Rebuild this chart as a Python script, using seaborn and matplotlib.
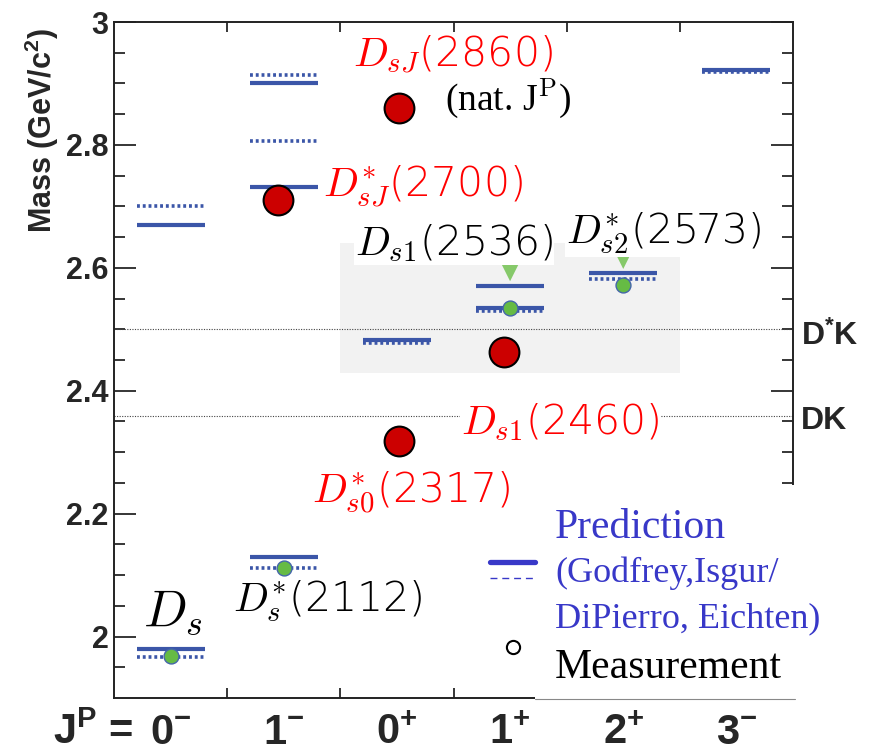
import numpy as np
import pandas as pd
import matplotlib
matplotlib.use('Agg')
import matplotlib.pyplot as plt
import matplotlib.transforms as mtransforms
from matplotlib.patches import Rectangle
from matplotlib.lines import Line2D
import seaborn as sns

# J^P columns
jp_labels = ['0$^{-}$', '1$^{-}$', '0$^{+}$', '1$^{+}$', '2$^{+}$', '3$^{-}$']

# Godfrey-Isgur predictions (solid): column index and mass (GeV/c^2)
gi_col = [0, 0, 1, 1, 1, 2, 3, 3, 4, 5]
gi_mass = [1.980, 2.670, 2.130, 2.732, 2.901, 2.483, 2.535, 2.571, 2.592, 2.922]

# DiPierro-Eichten predictions (dashed)
de_col = [0, 0, 1, 1, 1, 2, 3, 4, 5]
de_mass = [1.966, 2.701, 2.112, 2.807, 2.914, 2.478, 2.530, 2.582, 2.918]

# established states (green)
known_col = [0, 1, 3, 4]
known_mass = [1.968, 2.112, 2.535, 2.572]

# green triangles
tri_col = [3, 4]
tri_mass = [2.592, 2.612]

# newer states (red)
new_col = [1, 2, 2, 3]
new_mass = [2.710, 2.860, 2.318, 2.463]

# thresholds
thr_names = ['D$^{*}$K', 'DK']
thr_mass = [2.501, 2.359]

# state labels
red_labels = [r'$D_{sJ}$(2860)', r'$D^{*}_{sJ}$(2700)', r'$D_{s1}$(2460)', r'$D^{*}_{s0}$(2317)']
black_labels = [r'$D_{s1}$(2536)', r'$D^{*}_{s2}$(2573)', r'$D^{*}_{s}$(2112)']

sns.set_style('ticks')
plt.rcParams['mathtext.fontset'] = 'custom'
plt.rcParams['mathtext.rm'] = 'Liberation Sans:bold'
plt.rcParams['mathtext.it'] = 'Liberation Sans:bold:italic'
plt.rcParams['mathtext.bf'] = 'Liberation Sans:bold'
plt.rcParams['font.family'] = ['Liberation Sans', 'DejaVu Sans']

W, H = 872, 753
fig = plt.figure(figsize=(W / 100, H / 100), dpi=100)
ax = fig.add_axes([114 / W, 55 / H, 679 / W, 676 / H])
ax.set_xlim(-0.5, 5.5)
ax.set_ylim(1.9, 3.0)

blue = '#3b56a8'

# shaded box
ax.add_patch(Rectangle((1.5, 2.429), 3.0, 0.212, fc='#f2f2f2', ec='none', zorder=0.5))

# thresholds
for m in thr_mass:
    ax.axhline(m, color='#444444', lw=0.8, ls=(0, (1, 1.3)), zorder=1)

# predictions
gi = np.array(gi_col)
de = np.array(de_col)
ax.hlines(de_mass, de - 0.30, de + 0.30, colors=blue, lw=2.6,
          linestyles=[(0, (0.8, 0.8))], zorder=2)
ax.hlines(gi_mass, gi - 0.30, gi + 0.30, colors=blue, lw=3.0, zorder=2.5)

# measurements
known_df = pd.DataFrame({'x': known_col, 'mass': known_mass})
tri_df = pd.DataFrame({'x': tri_col, 'mass': tri_mass})
new_df = pd.DataFrame({'x': np.array(new_col) + np.array([-0.05, 0.02, 0.02, -0.05]),
                       'mass': new_mass})
sns.scatterplot(data=tri_df, x='x', y='mass', marker='v', s=150, color='#86c96a',
                edgecolor='none', zorder=3, ax=ax)
sns.scatterplot(data=known_df, x='x', y='mass', s=115, color='#66bb44',
                edgecolor='#4466aa', linewidth=1, zorder=4, ax=ax)
sns.scatterplot(data=new_df, x='x', y='mass', s=460, color='#cc0000',
                edgecolor='black', linewidth=1.5, zorder=4, ax=ax)

# labels
lab = dict(family='DejaVu Sans', fontweight=200, math_fontfamily='cm', fontsize=29.5,
           va='baseline', ha='left', zorder=6)
ax.text(1.612, 2.927, red_labels[0], color='red', **lab)
ax.text(1.347, 2.715, red_labels[1], color='red', **lab)
ax.text(2.566, 2.330, red_labels[2], color='red',
        bbox=dict(fc='white', ec='none', pad=1), **lab)
ax.text(1.250, 2.218, red_labels[3], color='red', **lab)
ax.text(1.630, 2.620, black_labels[0], color='black',
        bbox=dict(fc='white', ec='none', pad=0.5), **lab)
ax.text(3.494, 2.639, black_labels[1], color='black',
        bbox=dict(fc='white', ec='none', pad=0.5), **lab)
ax.text(0.552, 2.041, black_labels[2], color='black', **lab)
ax.text(-0.244, 2.015, r'$D_s$', color='black', family='DejaVu Sans', math_fontfamily='cm',
        fontsize=37, va='baseline', ha='left', zorder=6)
ax.text(2.425, 2.857, r'(nat. J$^{\mathrm{P}}$)', color='black', family='Liberation Serif',
        math_fontfamily='cm', fontsize=27, va='baseline', ha='left', zorder=6)

# axes styling
for s in ax.spines.values():
    s.set_color('#222222')
    s.set_linewidth(1.4)
ax.set_yticks(np.arange(2.0, 3.01, 0.2))
ax.set_yticks(np.arange(1.95, 3.0, 0.05), minor=True)
ax.set_yticklabels(['2', '2.2', '2.4', '2.6', '2.8', '3'], fontsize=22, fontweight='bold')
ax.tick_params(axis='y', which='both', direction='in', left=True, right=True, width=1.3, pad=4)
ax.tick_params(axis='y', which='major', length=16)
ax.tick_params(axis='y', which='minor', length=8)
ax.set_xticks(range(6))
ax.set_xticklabels([])
ax.set_xticks(np.arange(0.5, 5.0, 1.0), minor=True)
ax.tick_params(axis='x', which='major', length=0)
ax.tick_params(axis='x', which='minor', direction='in', top=True, bottom=True, length=7, width=1.3)
ax.set_xlabel('')
ax.set_ylabel('')

xt = mtransforms.blended_transform_factory(ax.transData, ax.transAxes)
for i, t in enumerate(jp_labels):
    ax.text(i, -0.068, t, transform=xt, ha='center', va='baseline', fontsize=30,
            fontweight='bold', clip_on=False)
ax.text(-0.33, -0.068, r'J$^{\mathrm{P}}$ =', transform=xt, ha='right', va='baseline',
        fontsize=30, fontweight='bold', clip_on=False)

yt = mtransforms.blended_transform_factory(ax.transAxes, ax.transData)
ax.text(1.0118, 2.475, thr_names[0], transform=yt, ha='left', va='baseline',
        fontsize=23, fontweight='bold', clip_on=False)
ax.text(1.0118, 2.337, thr_names[1], transform=yt, ha='left', va='baseline',
        fontsize=23, fontweight='bold', clip_on=False)

fig.text(42 / W, 1 - 130 / H, r'Mass (GeV/c$^{2}$)', rotation=90, ha='center', va='center',
         fontsize=22, fontweight='bold')

# legend box
fig.add_artist(Rectangle((535 / W, 1 - 702 / H), 270 / W, 217 / H, transform=fig.transFigure,
                         fc='white', ec='none', zorder=10))
fig.add_artist(Line2D([535 / W, 795 / W], [1 - 699 / H] * 2, transform=fig.transFigure,
                      color='#888888', lw=0.8, zorder=11))
leg_blue = '#3838c8'
fig.add_artist(Line2D([490 / W, 535 / W], [1 - 562 / H] * 2, transform=fig.transFigure,
                      color=leg_blue, lw=3.8, zorder=11))
fig.add_artist(Line2D([490 / W, 535 / W], [1 - 578 / H] * 2, transform=fig.transFigure,
                      color=leg_blue, lw=1.0, ls=(0, (5, 3.5)), zorder=11))
fig.add_artist(Line2D([513 / W], [1 - 647 / H], transform=fig.transFigure, marker='o',
                      ms=9.5, mfc='white', mec='black', mew=1.5, zorder=11))
serif = dict(family='Liberation Serif', ha='left', va='baseline', zorder=12)
fig.text(555 / W, 1 - 538 / H, 'Prediction', color=leg_blue, fontsize=30, **serif)
fig.text(555 / W, 1 - 582 / H, '(Godfrey,Isgur/', color=leg_blue, fontsize=26, **serif)
fig.text(555 / W, 1 - 627 / H, 'DiPierro, Eichten)', color=leg_blue, fontsize=26, **serif)
fig.text(555 / W, 1 - 678 / H, 'Measurement', color='black', fontsize=30, **serif)

plt.savefig('out.png', dpi=100)
plt.close()
